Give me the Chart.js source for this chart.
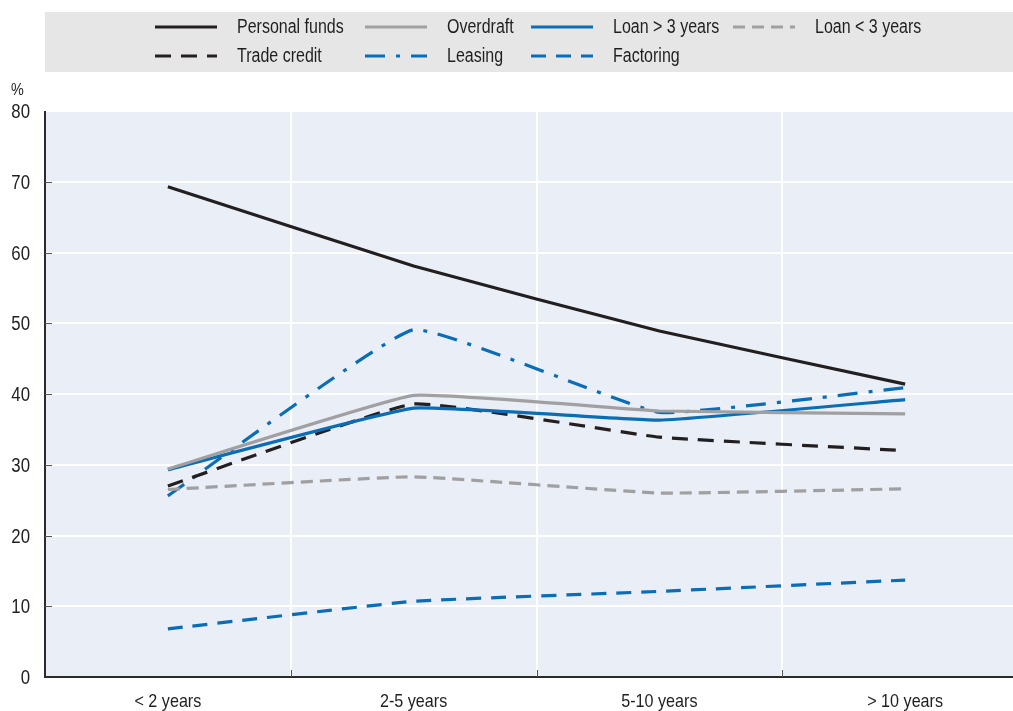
<!DOCTYPE html>
<html>
<head>
<meta charset="utf-8">
<script src="https://cdn.jsdelivr.net/npm/chart.js@4/dist/chart.umd.min.js"></script>
<style>
  html, body { margin: 0; padding: 0; background: #ffffff; overflow: hidden; }
  #wrap { position: absolute; left: 0; top: 0; width: 1028px; height: 711px; }
</style>
</head>
<body>
<div id="wrap"><canvas id="chart" width="1028" height="711"></canvas></div>
<script>
// Share of firms using each source of finance, by firm age (%)
const categories = ['< 2 years', '2-5 years', '5-10 years', '> 10 years'];
const personalFunds = [69.3, 58.1, 48.9, 41.4];
const overdraft     = [29.4, 39.8, 37.6, 37.2];
const loanOver3     = [29.3, 38.0, 36.3, 39.2];
const loanUnder3    = [26.5, 28.3, 26.0, 26.6];
const tradeCredit   = [27.0, 38.6, 33.9, 32.0];
const leasing       = [25.6, 49.1, 37.4, 40.9];
const factoring     = [6.8, 10.7, 12.1, 13.7];
const yTickValues   = [0, 10, 20, 30, 40, 50, 60, 70, 80];

const FONT = "'Liberation Sans', Arial, sans-serif";
const TEXT = '#1f1f1f';
const BLACK = '#231f20';
const GREY = '#a0a0a2';
const BLUE = '#0a6db5';

function series(label, data, color, dash, legendRow, legendCol) {
  return {
    label, data,
    borderColor: color,
    backgroundColor: color,
    borderWidth: 3.2,
    borderDash: dash,
    pointRadius: 0,
    pointHoverRadius: 0,
    tension: 0.1,
    fill: false,
    legendRow, legendCol
  };
}

const datasets = [
  series('Personal funds', personalFunds, BLACK, [], 0, 0),
  series('Overdraft', overdraft, GREY, [], 0, 1),
  series('Loan > 3 years', loanOver3, BLUE, [], 0, 2),
  series('Loan < 3 years', loanUnder3, GREY, [12, 7], 0, 3),
  series('Trade credit', tradeCredit, BLACK, [16, 10], 1, 0),
  series('Leasing', leasing, BLUE, [20, 11, 4, 11], 1, 1),
  series('Factoring', factoring, BLUE, [15, 10], 1, 2)
];

// Condensed-looking text: regular face squeezed horizontally
function narrowText(ctx, text, x, y, size, align, squeeze) {
  ctx.save();
  ctx.font = size + 'px ' + FONT;
  ctx.fillStyle = TEXT;
  ctx.textAlign = align;
  ctx.textBaseline = 'alphabetic';
  ctx.translate(x, y);
  ctx.scale(squeeze, 1);
  ctx.fillText(text, 0, 0);
  ctx.restore();
}

// Grey legend band, plot background, axis lines, inner ticks and all labels
const decor = {
  id: 'decor',
  beforeDraw(chart) {
    const { ctx, chartArea: a } = chart;
    ctx.save();
    ctx.fillStyle = '#e9eef7';
    ctx.fillRect(a.left, a.top, a.right - a.left, a.bottom - a.top);
    ctx.restore();
  },
  afterDatasetsDraw(chart) {
    const { ctx, chartArea: a, scales } = chart;
    const xs = scales.x, ys = scales.y;
    ctx.save();
    ctx.strokeStyle = '#2b2b2b';
    ctx.lineWidth = 2;
    ctx.beginPath();
    ctx.moveTo(a.left, a.top);
    ctx.lineTo(a.left, a.bottom);
    ctx.lineTo(a.right, a.bottom);
    ctx.stroke();
    ctx.strokeStyle = '#555';
    ctx.lineWidth = 1;
    ctx.beginPath();
    yTickValues.forEach(v => {
      if (v === 0 || v === 80) return;
      const y = Math.round(ys.getPixelForValue(v)) + 0.5;
      ctx.moveTo(a.left, y); ctx.lineTo(a.left + 7, y);
    });
    for (let i = 1; i < categories.length; i++) {
      const x = Math.round((xs.getPixelForValue(i - 1) + xs.getPixelForValue(i)) / 2) + 0.5;
      ctx.moveTo(x, a.bottom); ctx.lineTo(x, a.bottom - 7);
    }
    ctx.stroke();
    ctx.restore();

    yTickValues.forEach(v => {
      narrowText(ctx, String(v), 30, ys.getPixelForValue(v) + 7, 20, 'right', 0.84);
    });
    categories.forEach((c, i) => {
      narrowText(ctx, c, xs.getPixelForValue(i), 707, 19, 'center', 0.85);
    });
    narrowText(ctx, '%', 11, 95, 16, 'left', 0.9);
  },
  afterDraw(chart) {
    const { ctx, chartArea: a } = chart;
    ctx.save();
    ctx.fillStyle = '#e6e6e7';
    ctx.fillRect(a.left, 12, chart.width - a.left, 60);
    const colX = [155, 365, 531, 733];
    const rowY = [27, 56];
    chart.data.datasets.forEach(ds => {
      const x = colX[ds.legendCol], y = rowY[ds.legendRow];
      ctx.strokeStyle = ds.borderColor;
      ctx.lineWidth = 3;
      ctx.setLineDash(ds.borderDash);
      ctx.beginPath();
      ctx.moveTo(x, y); ctx.lineTo(x + 62, y);
      ctx.stroke();
      ctx.setLineDash([]);
      narrowText(ctx, ds.label, x + 82, y + 6, 20, 'left', 0.8);
    });
    ctx.restore();
  }
};

new Chart(document.getElementById('chart'), {
  type: 'line',
  data: { labels: categories, datasets },
  plugins: [decor],
  options: {
    responsive: false,
    animation: false,
    layout: { padding: { top: 111, left: 0, right: 0, bottom: 0 } },
    plugins: { legend: { display: false }, tooltip: { enabled: false } },
    scales: {
      x: {
        type: 'category',
        offset: true,
        border: { display: false },
        grid: { offset: true, color: '#ffffff', lineWidth: 2, drawTicks: false },
        ticks: { color: 'rgba(0,0,0,0)', font: { family: FONT, size: 18 }, padding: 12, maxRotation: 0 },
        afterFit(s) { s.height = 34; }
      },
      y: {
        min: 0, max: 80,
        border: { display: false },
        grid: { color: '#ffffff', lineWidth: 2, drawTicks: false },
        afterBuildTicks(s) { s.ticks = yTickValues.map(v => ({ value: v })); },
        ticks: { color: 'rgba(0,0,0,0)', font: { family: FONT, size: 18 }, padding: 14 },
        afterFit(s) { s.width = 45; }
      }
    }
  }
});
</script>
</body>
</html>
